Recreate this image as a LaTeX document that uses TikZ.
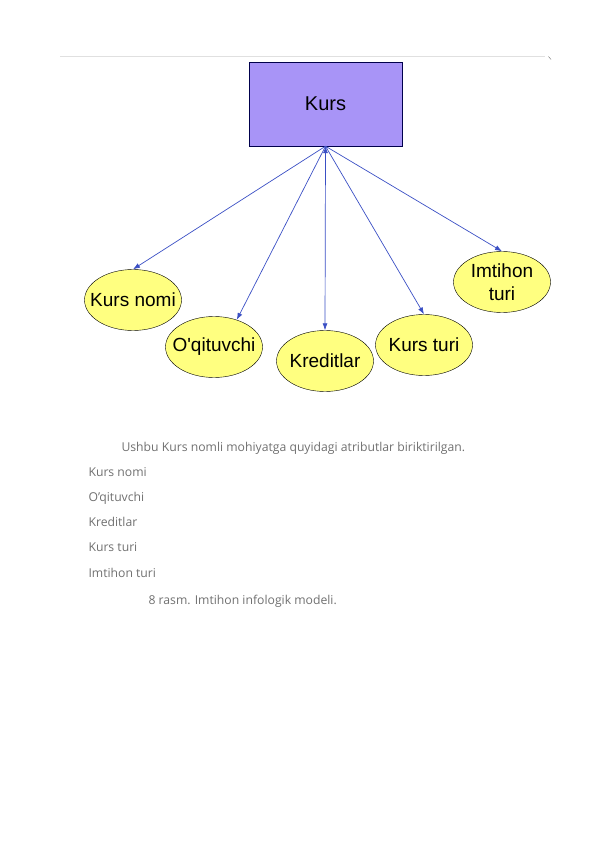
\documentclass[tikz,border=0pt]{standalone}
\usepackage{fontspec}
\setmainfont{Liberation Sans}
\newfontfamily\notefont{Open Sans}
\usetikzlibrary{
  positioning,
  arrows.meta, shapes.geometric
}
\definecolor{kursfill}{HTML}{A894F7}
\definecolor{attrfill}{HTML}{FFFF80}
\definecolor{linkblue}{HTML}{3A4FC4}
\definecolor{notegray}{HTML}{707070}

\begin{document}
\begin{tikzpicture}[x=1pt,y=-1pt,
    entity/.style={draw=black!70!blue, fill=kursfill, minimum width=153pt,
      minimum height=84pt, font=\fontsize{20}{22}\selectfont},
    attr/.style={ellipse, draw, fill=attrfill, minimum width=97pt,
      minimum height=61pt, inner xsep=-14pt, inner ysep=0pt, align=center,
      font=\fontsize{19}{23}\selectfont},
    link/.style={-{Latex[length=7pt,width=5pt]}, draw=linkblue,
      fill=linkblue, line width=0.7pt},
    note/.style={anchor=base west, text=notegray,
      font=\notefont\fontsize{12.2}{14}\selectfont}]
      \useasboundingbox (0,0) rectangle (595,842);
      \draw[black!12] (60,56) -- (545,56);
      \draw[black!60] (548.5,56.5) -- (551,59.5);

      \node[entity] (kurs) at (325.5,104) {Kurs};
      \node[attr] (nomi)      at (133,300) {Kurs nomi};
      \node[attr] (oqituvchi) at (214,347) {O\textquotesingle qituvchi};
      \node[attr] (kredit)    at (325,361) {Kreditlar};
      \node[attr] (turi)      at (424,345) {Kurs turi};
      \node[attr] (imtihon)   at (502,282) {Imtihon\\turi};
        \path[link]
        (kurs.south) edge (nomi.north)
                     edge (oqituvchi.50)
                     edge (kredit.north)
                     edge (turi.north)
                     edge (imtihon.north);

      \node[note] (intro) at (118,451) {Ushbu Kurs nomli mohiyatga quyidagi atributlar biriktirilgan.};
      \node[note] (a1) at (85,476) {Kurs nomi};
      \node[note] (a2) at (85,501) {O’qituvchi};
      \node[note] (a3) at (85,526) {Kreditlar};
      \node[note] (a4) at (85,551) {Kurs turi};
      \node[note] (a5) at (85,577) {Imtihon turi};
      \node[note] (caption) at (145,604) {8 rasm. Imtihon infologik modeli.};
\end{tikzpicture}
\end{document}
